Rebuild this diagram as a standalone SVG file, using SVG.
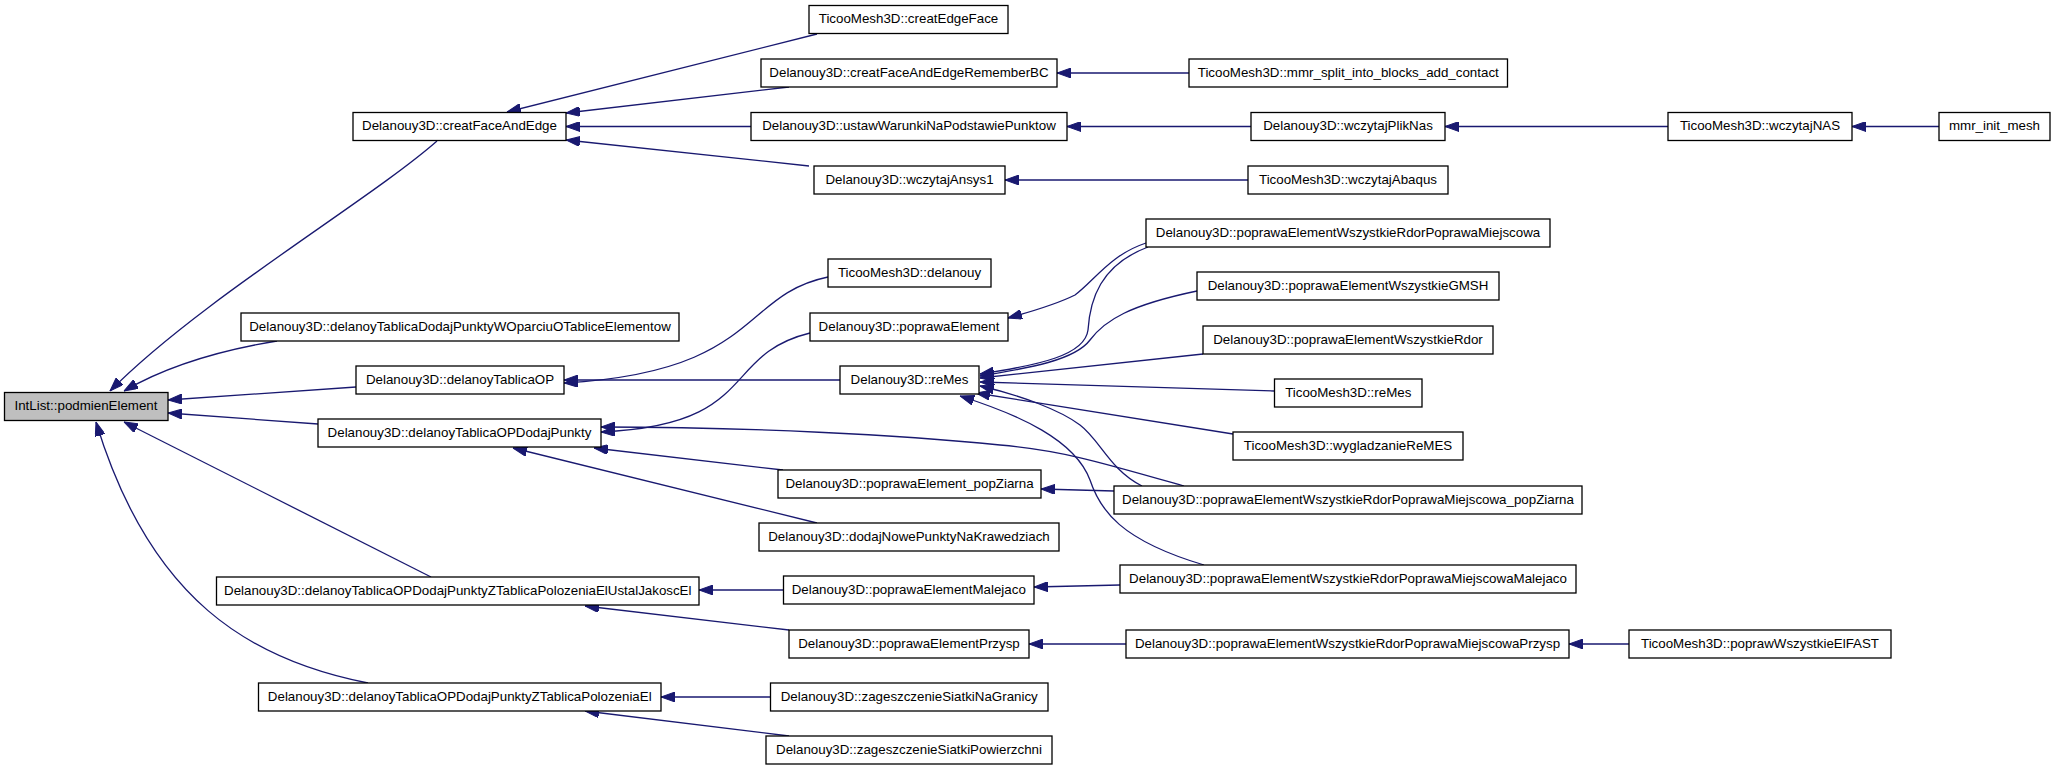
<svg xmlns="http://www.w3.org/2000/svg" width="2056" height="771" viewBox="0 0 2056 771">
<defs>
<marker id="arr" viewBox="0 0 14 10" refX="14" refY="5" markerWidth="14" markerHeight="10" markerUnits="userSpaceOnUse" orient="auto">
<path d="M0,0 L14,5 L0,10 z" fill="#191970" stroke="#191970" stroke-width="1"/>
</marker>
<style>
.n rect{fill:#fff;stroke:#000;stroke-width:1.3}
.n.root rect{fill:#bfbfbf}
.n text{font-family:"Liberation Sans",Arial,sans-serif;font-size:13.33px;fill:#000;text-anchor:middle}
#edges path{fill:none;stroke:#191970;stroke-width:1.3;marker-end:url(#arr)}
</style>
</defs>
<rect width="2056" height="771" fill="#fff"/>
<g id="edges">
<path d="M437,141 C370,200 200,300 110,391"/>
<path d="M277,341 C210,352 160,370 124,391"/>
<path d="M356,387 L168,400"/>
<path d="M318,424 L168,413"/>
<path d="M431,577 L124,422"/>
<path d="M368,683 C250,660 150,600 96,422"/>
<path d="M817,34 L507,112"/>
<path d="M789,87 L566,113"/>
<path d="M751,126.5 L566,126.5"/>
<path d="M809,166 L566,140"/>
<path d="M828,277 C740,295 760,372 564,383"/>
<path d="M840,380 L564,380"/>
<path d="M810,333 C720,355 760,425 601,432"/>
<path d="M1184,486 C1100,462 1060,450 1000,445 C900,435 750,427 601,427"/>
<path d="M783,470 L594,448"/>
<path d="M817,523 L513,448"/>
<path d="M1146,243 C1110,255 1095,280 1075,295 C1055,305 1030,312 1008,318"/>
<path d="M1148,247 C1100,265 1090,300 1088,330 C1085,355 1040,365 980,374"/>
<path d="M1197,291 C1130,305 1105,320 1090,340 C1075,360 1030,368 980,376"/>
<path d="M1203,354 L980,378"/>
<path d="M1274,391 L980,382"/>
<path d="M1233,434 L976,393"/>
<path d="M1142,486 C1110,470 1100,440 1080,425 C1060,410 1020,395 980,386"/>
<path d="M1204,565 C1120,540 1100,510 1090,480 C1075,440 1020,415 960,396"/>
<path d="M1114,491 L1041,489"/>
<path d="M1120,585 L1034,587"/>
<path d="M1126,644 L1029,644"/>
<path d="M783,590 L699,590"/>
<path d="M789,630 L585,606"/>
<path d="M770,697 L661,697"/>
<path d="M789,736 L585,711"/>
<path d="M1189,73 L1057,73"/>
<path d="M1251,126.5 L1067,126.5"/>
<path d="M1248,180 L1005,180"/>
<path d="M1668,126.5 L1445,126.5"/>
<path d="M1939,126.5 L1852,126.5"/>
<path d="M1629,644 L1569,644"/>
</g>
<g id="n_intlist" class="n root"><rect x="4.5" y="392.5" width="163.5" height="28"/><text x="86" y="410">IntList::podmienElement</text></g>
<g id="n_creatFaceAndEdge" class="n"><rect x="353" y="112.5" width="213" height="28"/><text x="459.5" y="130">Delanouy3D::creatFaceAndEdge</text></g>
<g id="n_wOparciu" class="n"><rect x="241" y="313" width="438" height="28"/><text x="460" y="330.5">Delanouy3D::delanoyTablicaDodajPunktyWOparciuOTabliceElementow</text></g>
<g id="n_tablicaOP" class="n"><rect x="356" y="366" width="208" height="28"/><text x="460" y="383.5">Delanouy3D::delanoyTablicaOP</text></g>
<g id="n_dodajPunkty" class="n"><rect x="318" y="419" width="283" height="28"/><text x="459.5" y="436.5">Delanouy3D::delanoyTablicaOPDodajPunkty</text></g>
<g id="n_ustalJakosc" class="n"><rect x="216.5" y="577" width="482.5" height="28"/><text x="457.75" y="594.5">Delanouy3D::delanoyTablicaOPDodajPunktyZTablicaPolozeniaElUstalJakoscEl</text></g>
<g id="n_polozeniaEl" class="n"><rect x="258.5" y="683" width="402.5" height="28"/><text x="459.75" y="700.5">Delanouy3D::delanoyTablicaOPDodajPunktyZTablicaPolozeniaEl</text></g>
<g id="n_creatEdgeFace" class="n"><rect x="809" y="5.5" width="199" height="28"/><text x="908.5" y="23">TicooMesh3D::creatEdgeFace</text></g>
<g id="n_rememberBC" class="n"><rect x="761" y="59" width="296" height="28"/><text x="909" y="76.5">Delanouy3D::creatFaceAndEdgeRememberBC</text></g>
<g id="n_ustaw" class="n"><rect x="751" y="112.5" width="316" height="28"/><text x="909" y="130">Delanouy3D::ustawWarunkiNaPodstawiePunktow</text></g>
<g id="n_ansys" class="n"><rect x="814" y="166" width="191" height="28"/><text x="909.5" y="183.5">Delanouy3D::wczytajAnsys1</text></g>
<g id="n_delanouy" class="n"><rect x="828" y="259" width="163" height="28"/><text x="909.5" y="276.5">TicooMesh3D::delanouy</text></g>
<g id="n_poprawaElement" class="n"><rect x="810" y="313" width="198" height="28"/><text x="909" y="330.5">Delanouy3D::poprawaElement</text></g>
<g id="n_reMes" class="n"><rect x="840" y="366" width="139" height="28"/><text x="909.5" y="383.5">Delanouy3D::reMes</text></g>
<g id="n_popZiarna" class="n"><rect x="778" y="470" width="263" height="28"/><text x="909.5" y="487.5">Delanouy3D::poprawaElement_popZiarna</text></g>
<g id="n_dodajNowe" class="n"><rect x="759" y="523" width="300" height="28"/><text x="909" y="540.5">Delanouy3D::dodajNowePunktyNaKrawedziach</text></g>
<g id="n_malejaco" class="n"><rect x="783.5" y="576" width="250.5" height="28"/><text x="908.75" y="593.5">Delanouy3D::poprawaElementMalejaco</text></g>
<g id="n_przysp" class="n"><rect x="789" y="630" width="240" height="28"/><text x="909" y="647.5">Delanouy3D::poprawaElementPrzysp</text></g>
<g id="n_naGranicy" class="n"><rect x="770.5" y="683" width="277.5" height="28"/><text x="909.25" y="700.5">Delanouy3D::zageszczenieSiatkiNaGranicy</text></g>
<g id="n_powierzchni" class="n"><rect x="766" y="736" width="286" height="28"/><text x="909" y="753.5">Delanouy3D::zageszczenieSiatkiPowierzchni</text></g>
<g id="n_mmrSplit" class="n"><rect x="1189" y="59" width="318.5" height="28"/><text x="1348.25" y="76.5">TicooMesh3D::mmr_split_into_blocks_add_contact</text></g>
<g id="n_plikNas" class="n"><rect x="1251" y="112.5" width="194" height="28"/><text x="1348" y="130">Delanouy3D::wczytajPlikNas</text></g>
<g id="n_abaqus" class="n"><rect x="1248" y="166" width="200" height="28"/><text x="1348" y="183.5">TicooMesh3D::wczytajAbaqus</text></g>
<g id="n_rdorMiejscowa" class="n"><rect x="1146" y="219" width="404" height="28"/><text x="1348" y="236.5">Delanouy3D::poprawaElementWszystkieRdorPoprawaMiejscowa</text></g>
<g id="n_gmsh" class="n"><rect x="1197" y="272" width="302" height="28"/><text x="1348" y="289.5">Delanouy3D::poprawaElementWszystkieGMSH</text></g>
<g id="n_rdor" class="n"><rect x="1203" y="326" width="290" height="28"/><text x="1348" y="343.5">Delanouy3D::poprawaElementWszystkieRdor</text></g>
<g id="n_ticooReMes" class="n"><rect x="1274.5" y="379" width="147.5" height="28"/><text x="1348.25" y="396.5">TicooMesh3D::reMes</text></g>
<g id="n_wygladzanie" class="n"><rect x="1233" y="432" width="230" height="28"/><text x="1348" y="449.5">TicooMesh3D::wygladzanieReMES</text></g>
<g id="n_rdorPopZiarna" class="n"><rect x="1114" y="486" width="468" height="28"/><text x="1348" y="503.5">Delanouy3D::poprawaElementWszystkieRdorPoprawaMiejscowa_popZiarna</text></g>
<g id="n_rdorMalejaco" class="n"><rect x="1120" y="565" width="456" height="28"/><text x="1348" y="582.5">Delanouy3D::poprawaElementWszystkieRdorPoprawaMiejscowaMalejaco</text></g>
<g id="n_rdorPrzysp" class="n"><rect x="1126" y="630" width="443" height="28"/><text x="1347.5" y="647.5">Delanouy3D::poprawaElementWszystkieRdorPoprawaMiejscowaPrzysp</text></g>
<g id="n_wczytajNAS" class="n"><rect x="1668" y="112.5" width="184" height="28"/><text x="1760" y="130">TicooMesh3D::wczytajNAS</text></g>
<g id="n_fast" class="n"><rect x="1629" y="630" width="262" height="28"/><text x="1760" y="647.5">TicooMesh3D::poprawWszystkieElFAST</text></g>
<g id="n_mmrInit" class="n"><rect x="1939" y="112.5" width="111" height="28"/><text x="1994.5" y="130">mmr_init_mesh</text></g>
</svg>
